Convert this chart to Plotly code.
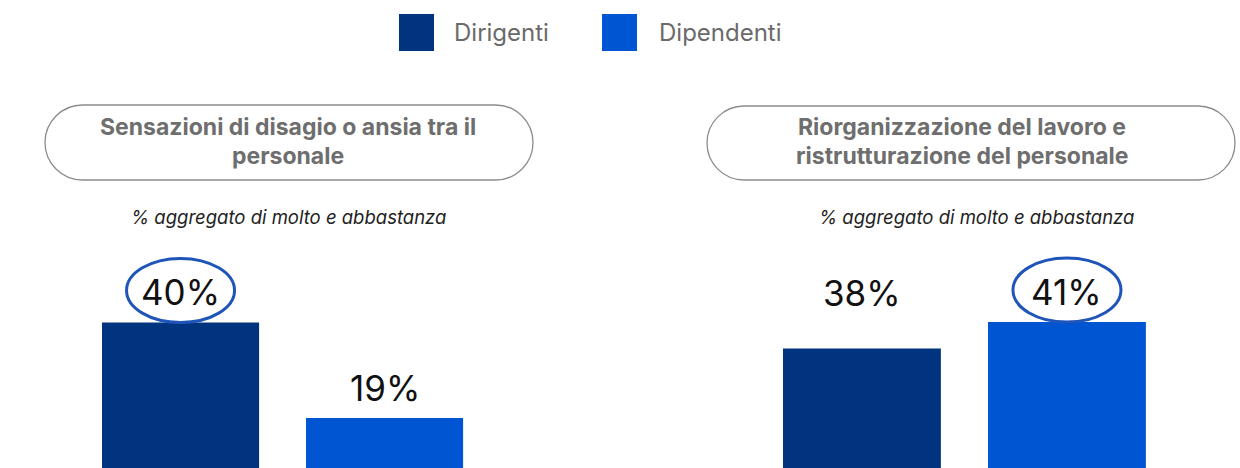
import plotly.graph_objects as go

# Survey results: share answering "molto" + "abbastanza"
groups = ["Dirigenti", "Dipendenti"]
panel_titles = [
    ["Sensazioni di disagio o ansia tra il", "personale"],
    ["Riorganizzazione del lavoro e", "ristrutturazione del personale"],
]
subtitle = "% aggregato di molto e abbastanza"
dirigenti = [40, 38]
dipendenti = [19, 41]

W, H = 1240, 468
colors = {"Dirigenti": "#00347F", "Dipendenti": "#0055D2"}
FONT = "Inter"


def px(x, y):
    """Pixel position (from top-left) to paper coordinates."""
    return x / W, 1 - y / H


def pill_path(x0, y0, x1, y1):
    r = (y1 - y0) / 2
    k = 0.5523 * r
    pts = [
        ("M", [(x0 + r, y0)]),
        ("L", [(x1 - r, y0)]),
        ("C", [(x1 - r + k, y0), (x1, y0 + r - k), (x1, y0 + r)]),
        ("C", [(x1, y0 + r + k), (x1 - r + k, y1), (x1 - r, y1)]),
        ("L", [(x0 + r, y1)]),
        ("C", [(x0 + r - k, y1), (x0, y1 - r + k), (x0, y0 + r)]),
        ("C", [(x0, y0 + r - k), (x0 + r - k, y0), (x0 + r, y0)]),
    ]
    out = []
    for cmd, coords in pts:
        c = " ".join("%.5f,%.5f" % px(a, b) for a, b in coords)
        out.append(cmd + c)
    return " ".join(out) + " Z"


fig = go.Figure()

panels = [
    dict(xa="x", ya="y", dom=[0, 0.5], xr=[-0.885, 2.154], yr=[8.0, 110.9],
         pill=(45, 105, 533, 180), title_cx=288, sub_cx=288, label_shift=[30, 30]),
    dict(xa="x2", ya="y2", dom=[0.5, 1], xr=[-1.180, 1.844], yr=[24.47, 77.47],
         pill=(707, 106, 1235, 180), title_cx=962, sub_cx=976, label_shift=[56, 30]),
]

shapes = []
annotations = []

for i, p in enumerate(panels):
    vals = [dirigenti[i], dipendenti[i]]
    fig.add_trace(go.Bar(
        x=groups, y=vals, width=0.77,
        marker=dict(color=[colors[g] for g in groups], line=dict(width=0)),
        xaxis=p["xa"], yaxis=p["ya"], showlegend=False, hoverinfo="x+y",
    ))
    top = max(vals)
    for g, v, ys in zip(groups, vals, p["label_shift"]):
        annotations.append(dict(
            x=g, y=v, xref=p["xa"], yref=p["ya"], text=f"{v}%",
            showarrow=False, yanchor="middle", yshift=ys,
            font=dict(family=FONT, size=35, color="#111111"),
        ))
        if v == top:
            shapes.append(dict(
                type="circle", xref=p["xa"], yref=p["ya"],
                xsizemode="pixel", ysizemode="pixel",
                xanchor=g, yanchor=v,
                x0=-54, x1=54, y0=0, y1=64,
                line=dict(color="#1F55B8", width=3), fillcolor="rgba(0,0,0,0)",
            ))
    # rounded title frame
    x0, y0, x1, y1 = p["pill"]
    shapes.append(dict(type="path", xref="paper", yref="paper",
                       path=pill_path(x0, y0, x1, y1),
                       line=dict(color="#8C8C8C", width=1.3)))
    for line, ly in zip(panel_titles[i], [127, 156]):
        annotations.append(dict(
            x=p["title_cx"] / W, y=1 - ly / H, xref="paper", yref="paper",
            text=f"<b>{line}</b>", showarrow=False,
            xanchor="center", yanchor="middle",
            font=dict(family=FONT, size=23, color="#6E6E6E"),
        ))
    annotations.append(dict(
        x=p["sub_cx"] / W, y=1 - 217 / H, xref="paper", yref="paper",
        text=f"<i>{subtitle}</i>", showarrow=False,
        xanchor="center", yanchor="middle",
        font=dict(family=FONT, size=18.5, color="#222222"),
    ))

# legend drawn as swatches + labels
for g, sx, tx in zip(groups, [399, 602], [452, 657]):
    a0, b0 = px(sx, 14)
    a1, b1 = px(sx + 35, 51)
    shapes.append(dict(type="rect", xref="paper", yref="paper",
                       x0=a0, x1=a1, y0=b1, y1=b0,
                       fillcolor=colors[g], line=dict(width=0)))
    annotations.append(dict(
        x=tx / W, y=1 - 33 / H, xref="paper", yref="paper", text=g,
        showarrow=False, xanchor="left", yanchor="middle",
        font=dict(family=FONT, size=24, color="#6A6A6A"),
    ))

axis_common = dict(showgrid=False, zeroline=False, showticklabels=False,
                   showline=False, ticks="", fixedrange=True)
fig.update_layout(
    width=W, height=H,
    margin=dict(l=0, r=0, t=0, b=0),
    paper_bgcolor="white", plot_bgcolor="white",
    xaxis=dict(domain=panels[0]["dom"], range=panels[0]["xr"], **axis_common),
    yaxis=dict(domain=[0, 1], range=panels[0]["yr"], **axis_common),
    xaxis2=dict(domain=panels[1]["dom"], range=panels[1]["xr"], anchor="y2", **axis_common),
    yaxis2=dict(domain=[0, 1], range=panels[1]["yr"], anchor="x2", **axis_common),
    shapes=shapes, annotations=annotations,
    showlegend=False,
)

fig.write_html("out.html")
